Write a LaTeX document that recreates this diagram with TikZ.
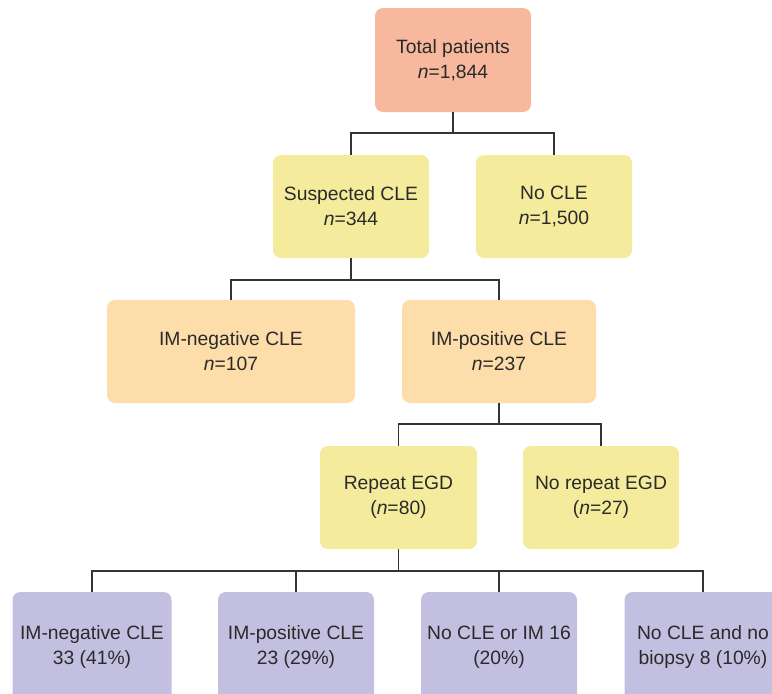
\documentclass[tikz,border=0pt]{standalone}
\usepackage{fontspec}
\setmainfont{Liberation Sans}
\usetikzlibrary{calc}
\definecolor{salmon}{HTML}{F8B89D}
\definecolor{yel}{HTML}{F5EB9C}
\definecolor{peach}{HTML}{FDDDA9}
\definecolor{lav}{HTML}{C3BFE1}
\definecolor{ink}{HTML}{2A2A2A}
\definecolor{wire}{HTML}{333333}
\begin{document}
\begin{tikzpicture}[x=1pt,y=-1pt,
  box/.style={rounded corners=8pt, minimum height=103pt, align=center, inner sep=0pt,
    text=ink, font=\fontsize{19.3}{25}\selectfont},
  link/.style={draw=wire, line width=1.7pt}]
\useasboundingbox (0,0) rectangle (772,694);
\clip (0,0) rectangle (772,694);
\node[box, fill=salmon, minimum width=156pt, minimum height=104pt] (tot) at (453,60) {Total patients\\\textit{n}=1,844};
\node[box, fill=yel, minimum width=156pt] (sus) at (351,206.5) {Suspected CLE\\\textit{n}=344};
\node[box, fill=yel, minimum width=156pt] (nocle) at (554,206.5) {No CLE\\\textit{n}=1,500};
\node[box, fill=peach, minimum width=248pt] (imneg) at (231,351.5) {IM-negative CLE\\\textit{n}=107};
\node[box, fill=peach, minimum width=194pt] (impos) at (499,351.5) {IM-positive CLE\\\textit{n}=237};
\node[box, fill=yel, minimum width=157pt] (rep) at (398.5,497.5) {Repeat EGD\\(\textit{n}=80)};
\node[box, fill=yel, minimum width=156pt] (norep) at (601,497.5) {No repeat EGD\\(\textit{n}=27)};
\node[box, fill=lav, minimum width=159pt, minimum height=110pt] (b1) at (92,647) {IM-negative CLE\\33 (41\%)};
\node[box, fill=lav, minimum width=156pt, minimum height=110pt] (b2) at (296,647) {IM-positive CLE\\23 (29\%)};
\node[box, fill=lav, minimum width=156pt, minimum height=110pt] (b3) at (499,647) {No CLE or IM 16\\(20\%)};
\node[box, fill=lav, minimum width=157pt, minimum height=110pt] (b4) at (703,647) {No CLE and no\\biopsy 8 (10\%)};
\draw[link] (tot.south) -- ++(0,21) -| (sus.north);
\draw[link] (tot.south) -- ++(0,21) -| (nocle.north);
\draw[link] (sus.south) -- ++(0,22) -| (imneg.north);
\draw[link] (sus.south) -- ++(0,22) -| (impos.north);
\draw[link] (impos.south) -- ++(0,21) -| (rep.north);
\draw[link] (impos.south) -- ++(0,21) -| (norep.north);
\draw[link] (rep.south) -- ++(0,22) -| (b1.north);
\draw[link] (rep.south) -- ++(0,22) -| (b2.north);
\draw[link] (rep.south) -- ++(0,22) -| (b3.north);
\draw[link] (rep.south) -- ++(0,22) -| (b4.north);
\end{tikzpicture}
\end{document}
